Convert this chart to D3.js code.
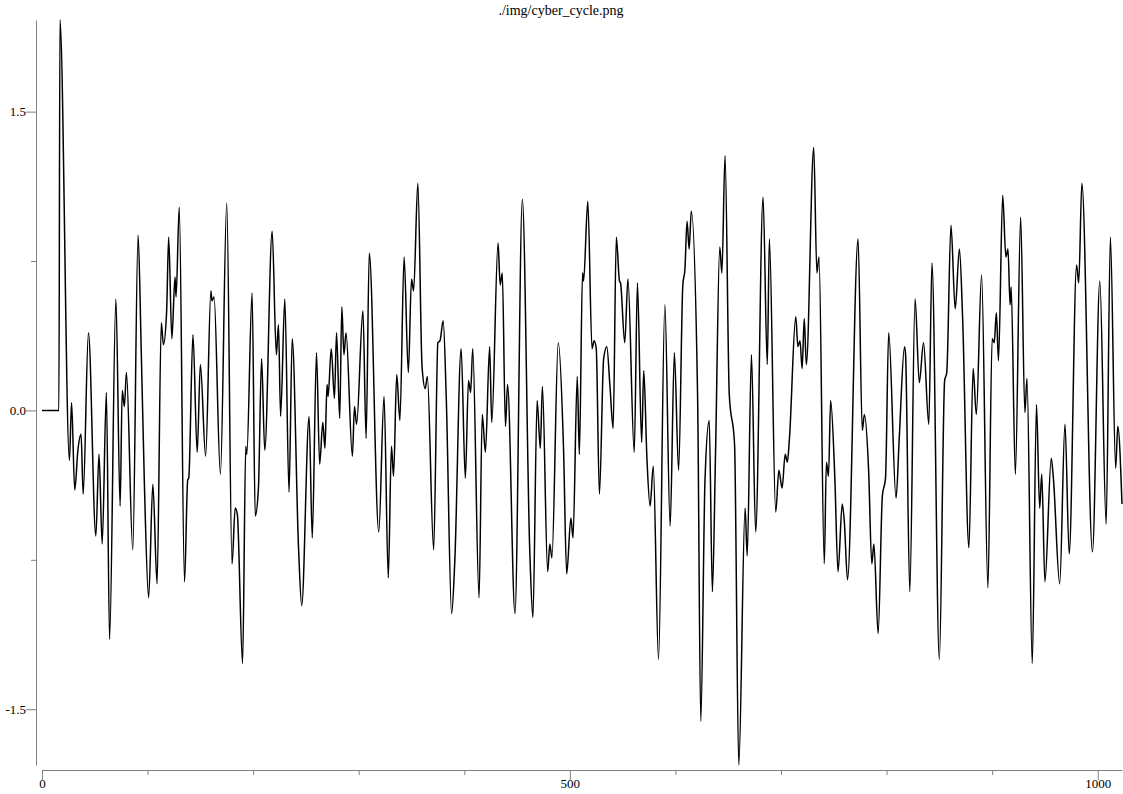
<!DOCTYPE html>
<html>
<head>
<meta charset="utf-8">
<script src="https://cdn.jsdelivr.net/npm/d3@7"></script>
<style>
  body { margin: 0; background: #fff; }
  text { font-family: "Liberation Serif", "DejaVu Serif", serif; }
</style>
</head>
<body>
<div id="chart"></div>
<script>
// chart title
var title = "./img/cyber_cycle.png";

// turning points of the cyber cycle series (sample index, value)
var idx = [0, 16, 17, 26, 28, 31, 34, 37, 39, 44, 51, 54, 57, 61, 64, 70, 74, 76, 78, 80,
  86, 91, 94, 97, 101, 105, 109, 113, 115, 118, 120, 123, 126, 127, 130, 135, 138, 139, 143, 147,
  150, 155, 160, 161, 163, 169, 175, 180, 183, 185, 190, 193, 194, 199, 202, 205, 208, 211, 218, 222,
  224, 226, 230, 234, 237, 243, 246, 253, 256, 260, 263, 266, 268, 270, 271, 274, 277, 279, 282, 284,
  286, 288, 294, 296, 298, 304, 307, 310, 319, 324, 328, 331, 333, 336, 339, 343, 347, 350, 352, 356,
  360, 363, 365, 371, 375, 377, 380, 383, 388, 391, 397, 401, 404, 406, 408, 414, 417, 420, 424, 426,
  432, 434, 436, 439, 441, 448, 455, 462, 465, 469, 472, 474, 479, 481, 483, 489, 494, 497, 501, 503,
  507, 509, 512, 513, 517, 521, 523, 525, 528, 532, 535, 538, 541, 544, 547, 548, 552, 555, 561, 564,
  568, 570, 573, 576, 579, 584, 590, 595, 599, 603, 607, 609, 611, 613, 615, 621, 624, 628, 632, 635,
  638, 642, 644, 647, 651, 656, 660, 666, 668, 672, 676, 683, 687, 689, 695, 698, 701, 704, 706, 708,
  714, 716, 718, 720, 722, 724, 731, 734, 736, 741, 743, 745, 747, 751, 754, 758, 760, 763, 773, 777,
  779, 783, 786, 788, 792, 796, 799, 802, 809, 812, 817, 818, 822, 827, 831, 835, 840, 843, 850, 855,
  857, 861, 865, 869, 872, 878, 882, 885, 890, 896, 900, 902, 904, 906, 910, 913, 915, 917, 918, 922,
  927, 931, 933, 938, 942, 945, 947, 950, 956, 958, 964, 969, 973, 980, 982, 985, 995, 1002, 1008, 1012,
  1017, 1019, 1023];

var val = [0, 0, 1.96, -0.25, 0.04, -0.40, -0.20, -0.12, -0.42, 0.39, -0.63, -0.22, -0.67, 0.09, -1.15, 0.56, -0.48, 0.10, 0.02, 0.19,
  -0.70, 0.88, 0.30, -0.37, -0.94, -0.37, -0.87, 0.44, 0.33, 0.49, 0.87, 0.36, 0.67, 0.57, 1.02, -0.86, -0.35, -0.34, 0.38, -0.21,
  0.23, -0.23, 0.60, 0.55, 0.57, -0.32, 1.04, -0.77, -0.49, -0.52, -1.27, -0.18, -0.22, 0.59, -0.53, -0.39, 0.26, -0.20, 0.90, 0.28,
  0.43, -0.03, 0.56, -0.41, 0.36, -0.69, -0.98, -0.03, -0.64, 0.29, -0.27, -0.06, -0.19, 0.13, 0.07, 0.31, 0.06, 0.39, -0.04, 0.52,
  0.28, 0.39, -0.23, 0.02, -0.07, 0.50, -0.14, 0.79, -0.61, 0.07, -0.84, -0.18, -0.33, 0.18, -0.05, 0.77, 0.19, 0.66, 0.60, 1.14,
  0.22, 0.11, 0.17, -0.70, 0.34, 0.35, 0.45, 0.05, -1.02, -0.76, 0.31, -0.34, 0.15, 0.09, 0.31, -0.94, -0.02, -0.21, 0.32, -0.06,
  0.84, 0.63, 0.69, -0.08, 0.13, -1.02, 1.06, -0.70, -1.04, 0.05, -0.19, 0.12, -0.81, -0.67, -0.74, 0.34, -0.19, -0.82, -0.54, -0.64,
  0.17, -0.22, 0.69, 0.65, 1.05, 0.31, 0.35, 0.31, -0.42, 0.26, 0.32, 0.12, -0.09, 0.87, 0.65, 0.64, 0.34, 0.66, -0.21, 0.64,
  -0.16, 0.20, -0.24, -0.48, -0.28, -1.25, 0.53, -0.58, 0.29, -0.30, 0.63, 0.71, 0.95, 0.81, 1.00, 0.07, -1.56, -0.35, -0.05, -0.91,
  -0.21, 0.82, 0.69, 1.28, 0.08, -0.17, -1.78, -0.49, -0.73, 0.28, -0.61, 1.07, 0.23, 0.86, -0.51, -0.30, -0.39, -0.22, -0.26, -0.14,
  0.47, 0.32, 0.35, 0.21, 0.46, 0.23, 1.32, 0.69, 0.77, -0.77, -0.26, -0.33, 0.05, -0.34, -0.81, -0.47, -0.56, -0.85, 0.86, -0.10,
  -0.02, -0.30, -0.77, -0.67, -1.12, -0.43, -0.34, 0.39, -0.44, -0.14, 0.32, 0.28, -0.91, 0.56, 0.14, 0.34, -0.07, 0.74, -1.25, 0.15,
  0.19, 0.93, 0.51, 0.81, 0.47, -0.69, 0.21, -0.02, 0.68, -0.89, 0.36, 0.34, 0.49, 0.25, 1.08, 0.77, 0.81, 0.53, 0.62, -0.32,
  0.97, -0.01, 0.16, -1.27, 0.03, -0.49, -0.32, -0.86, -0.24, -0.34, -0.87, -0.07, -0.72, 0.73, 0.64, 1.14, -0.71, 0.65, -0.57, 0.87,
  -0.29, -0.08, -0.47];

// ticks and which of them carry a label
var xTicks = [0, 100, 200, 300, 400, 500, 600, 700, 800, 900, 1000];
var xLabels = [0, 500, 1000];
var yTicks = [-1.5, -0.75, 0, 0.75, 1.5];
var yLabels = [-1.5, 0, 1.5];

var width = 1123, height = 794;

var svg = d3.select("#chart")
    .append("svg")
    .attr("width", width)
    .attr("height", height);

var data = idx.map(function (d, i) { return { i: d, v: val[i] }; });

var x = d3.scaleLinear()
    .domain([0, 1023])
    .range([42, 1122]);

var y = d3.scaleLinear()
    .domain(d3.extent(val))
    .range([765, 20]);

// x axis
var gx = svg.append("g")
    .attr("transform", "translate(0,770)")
    .call(d3.axisBottom(x)
        .tickValues(xTicks)
        .tickSizeOuter(0)
        .tickPadding(3)
        .tickFormat(function (d) { return xLabels.indexOf(d) >= 0 ? d : ""; }));

gx.selectAll(".tick line")
    .attr("y2", function (d) { return xLabels.indexOf(d) >= 0 ? 10 : 5; });

// y axis
var gy = svg.append("g")
    .attr("transform", "translate(36,0)")
    .call(d3.axisLeft(y)
        .tickValues(yTicks)
        .tickSizeOuter(0)
        .tickPadding(4)
        .tickFormat(function (d) { return yLabels.indexOf(d) >= 0 ? d.toFixed(1) : ""; }));

gy.selectAll(".tick line")
    .attr("x2", function (d) { return yLabels.indexOf(d) >= 0 ? -10 : -5; });

svg.selectAll(".domain, .tick line").attr("stroke", "#808080");
svg.selectAll(".tick text")
    .attr("fill", "#000")
    .style("font-family", "'Liberation Serif', serif")
    .style("font-size", "13px");

// the series
var line = d3.line()
    .x(function (d) { return x(d.i); })
    .y(function (d) { return y(d.v); })
    .curve(d3.curveMonotoneX);

svg.append("path")
    .datum(data)
    .attr("fill", "none")
    .attr("stroke", "#000")
    .attr("stroke-width", 1.5)
    .attr("stroke-linejoin", "round")
    .attr("d", line);

// title
svg.append("text")
    .attr("x", 561)
    .attr("y", 15)
    .attr("text-anchor", "middle")
    .attr("font-size", "14px")
    .text(title);
</script>
</body>
</html>
